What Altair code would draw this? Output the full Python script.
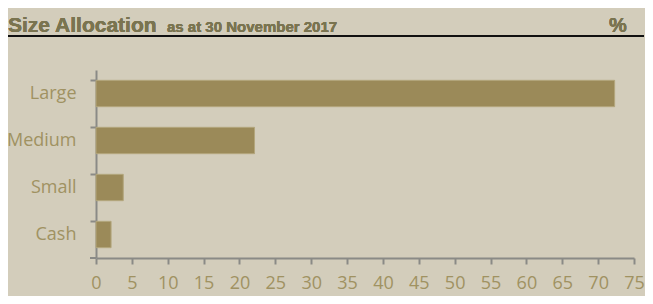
import altair as alt
import pandas as pd

categories = ["Large", "Medium", "Small", "Cash"]
values = [72.3, 22.1, 3.8, 2.1]
x_ticks = list(range(0, 80, 5))

title_main = "Size Allocation"
title_sub = "as at 30 November 2017"
unit_label = "%"

BG = "#d3cdbb"
BAR = "#9b8a59"
BAR_EDGE = "#b3a67c"
LABEL = "#a09262"
TITLE = "#7a7450"
AXIS = "#8a8a86"

df = pd.DataFrame({"category": categories, "value": values})

W, H = 538, 188
LEFT, TOP = 88, 62

bars = alt.Chart(df).mark_bar(color=BAR, stroke=BAR_EDGE, strokeWidth=1).encode(
    x=alt.X("value:Q",
            scale=alt.Scale(domain=[0, 75], nice=False, zero=True),
            axis=alt.Axis(values=x_ticks, title=None, grid=False,
                          domainColor=AXIS, domainWidth=2, tickColor=AXIS,
                          tickWidth=2, tickSize=6, labelColor=LABEL,
                          labelFont="Open Sans", labelFontSize=18,
                          labelPadding=10, labelFlush=False)),
    y=alt.Y("category:N", sort=categories,
            scale=alt.Scale(paddingInner=0.44, paddingOuter=0.22),
            axis=alt.Axis(title=None, domainColor=AXIS, domainWidth=2,
                          tickColor=AXIS, tickWidth=2, tickSize=6,
                          bandPosition=0, labelColor=LABEL,
                          labelFont="Open Sans", labelFontSize=18,
                          labelPadding=14)),
)

bottom_tick = alt.Chart(df).mark_rule(color=AXIS, strokeWidth=2).encode(
    x=alt.value(-6), x2=alt.value(0), y=alt.value(H)
)

title_y = 32 - 8 - TOP
t_main = alt.Chart(df).mark_text(
    text=title_main, font="Liberation Sans", fontWeight="bold", fontSize=21,
    color=TITLE, align="left", baseline="alphabetic"
).encode(x=alt.value(-LEFT), y=alt.value(title_y))

t_sub = alt.Chart(df).mark_text(
    text=title_sub, font="Liberation Sans", fontWeight="bold", fontSize=15,
    color=TITLE, align="left", baseline="alphabetic"
).encode(x=alt.value(71), y=alt.value(title_y))

t_unit = alt.Chart(df).mark_text(
    text=unit_label, font="Liberation Sans", fontWeight="bold", fontSize=20,
    color=TITLE, align="center", baseline="alphabetic"
).encode(x=alt.value(522), y=alt.value(title_y))

underline = alt.Chart(df).mark_rule(color="#111111", strokeWidth=1.5).encode(
    x=alt.value(-LEFT), x2=alt.value(W + 10), y=alt.value(title_y + 4)
)

chart = alt.layer(bars, bottom_tick, underline, t_main, t_sub, t_unit).properties(
    width=W, height=H,
    background=BG,
    autosize=alt.AutoSizeParams(type="none"),
    padding={"left": LEFT, "top": TOP, "right": 637 - LEFT - W, "bottom": 288 - TOP - H},
).configure_view(stroke=None)

chart.save("out.html", embed_options={"renderer": "svg", "actions": False})
